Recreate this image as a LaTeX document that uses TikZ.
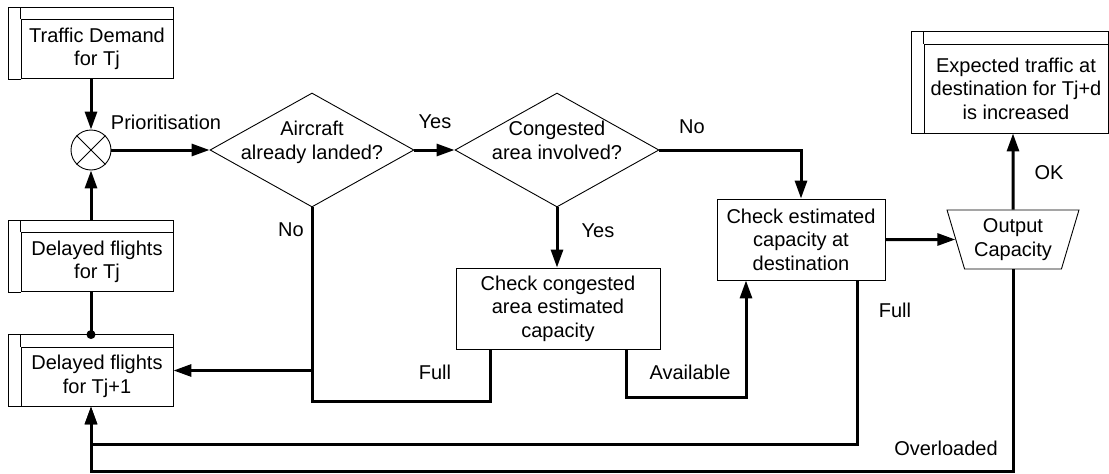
\documentclass[tikz,border=0pt]{standalone}
\usepackage{fontspec}
\setmainfont{Liberation Sans}
\usetikzlibrary{arrows.meta,shapes.geometric,calc}

% frame of a data-store box: header strip on top, narrow strip on the left
\newcommand\storeframe[1]{%
  \draw[thinline] (#1.south west) -- ++(-12,0) |- ($(#1.north east)+(0,-12)$) -- (#1.north east)
                  (#1.north west) -- ($(#1.north west)+(0,-12)$);}
% two-line text inside a decision diamond, kept from enlarging the shape
\newcommand\dtext[1]{\makebox[0pt]{\smash{\raisebox{2pt}{\begin{tabular}{@{}c@{}}#1\end{tabular}}}}}

\tikzset{
  thinline/.style={line width=0.9pt},
  store/.style={draw, thinline, align=center, inner sep=0pt, minimum width=152pt, minimum height=59pt},
  process/.style={draw, thinline, align=center, inner sep=0pt},
  decision/.style={draw, thinline, diamond, inner sep=0pt, minimum width=204pt, minimum height=114pt},
  outputbox/.style={draw, thinline, trapezium, trapezium left angle=71.3, trapezium right angle=71.3,
    shape border rotate=180, trapezium stretches=true, minimum width=132pt, minimum height=59pt,
    inner sep=0pt, align=center},
  conn/.style={line width=3pt, -{Triangle[length=18pt,width=12pt]}},
  link/.style={line width=3pt},
  lbl/.style={inner sep=0pt, anchor=base},
}

\begin{document}
\begin{tikzpicture}[x=1pt, y=-1pt, every node/.style={font=\fontsize{20pt}{23.5pt}\selectfont}]
\useasboundingbox (0,0) rectangle (1109,474);

% data stores
\node[store] (td)  at (97,49)    {Traffic Demand\\for Tj};
\node[store] (dt)  at (97,262)   {Delayed flights\\for Tj};
\node[store] (dt1) at (97,376.5) {Delayed flights\\for Tj+1};
\node[store, minimum width=184pt, minimum height=89pt] (exp) at (1016,88.5)
  {Expected traffic at\\destination for Tj+d\\is increased};
\storeframe{td}
\storeframe{dt}
\storeframe{dt1}
\storeframe{exp}

% merge junction
\node[draw, thinline, circle, minimum size=40pt, inner sep=0pt] (circ) at (91,150) {};
\draw[thinline] (circ.north west) -- (circ.south east) (circ.north east) -- (circ.south west);

% decisions and processes
\node[decision] (d1) at (312,150) {\dtext{Aircraft\\already landed?}};
\node[decision] (d2) at (557,150) {\dtext{Congested\\area involved?}};
\node[process, minimum width=204pt, minimum height=81pt] (cc) at (558,308.5)
  {Check congested\\area estimated\\capacity};
\node[process, minimum width=168pt, minimum height=81pt] (ce) at (801,239.5)
  {Check estimated\\capacity at\\destination};
\node[outputbox] (out) at (1013,239.5) {Output\\Capacity};

% connectors
\coordinate (tjin) at ($(dt1.east)+(0,-6)$);
\draw[conn] (td.south -| circ) -- (circ);
\draw[conn] ($(dt.north -| circ)+(0,-12)$) -- (circ);
\draw[link] (dt.south -| circ) -- ($(dt1.north -| circ)+(0,-12)$) coordinate (dot);
\fill (dot) circle (4.5pt);
\draw[conn] (circ) -- (d1);
\draw[conn] (d1) -- (d2);
\draw[conn] (d2) -| (ce);
\draw[conn] (d2.south) -- (d2.south |- cc.north);
\draw[conn] (d1.south) |- (tjin);
\draw[link] ($(cc.south)+(-68,0)$) -- ++(0,52) -| (d1.south |- tjin);
\draw[conn] ($(cc.south)+(68,0)$) -- ++(0,48) -| ($(ce.south)+(-55,0)$);
\draw[conn] (ce) -- (out);
\draw[conn] (out) -- (out |- exp.south);
\draw[conn] ($(ce.south)+(56,0)$) -- ++(0,164) -| (circ |- dt1.south);
\draw[conn] ($(out.center)+(0,29.5)$) -- ++(0,202) -| (circ |- dt1.south);

% connector labels
\node[lbl] (lprio) at (166,129) {Prioritisation};
\node[lbl] (lyes1) at (435,128) {Yes};
\node[lbl] (lno2)  at (692,133) {No};
\node[lbl] (lno1)  at (291,236) {No};
\node[lbl] (lyes2) at (598,237) {Yes};
\node[lbl] (lfull1) at (435,379) {Full};
\node[lbl] (lavail) at (690,379) {Available};
\node[lbl] (lfull2) at (895,317) {Full};
\node[lbl] (lover) at (946,455) {Overloaded};
\node[lbl] (lok) at (1049,179) {OK};
\end{tikzpicture}
\end{document}
